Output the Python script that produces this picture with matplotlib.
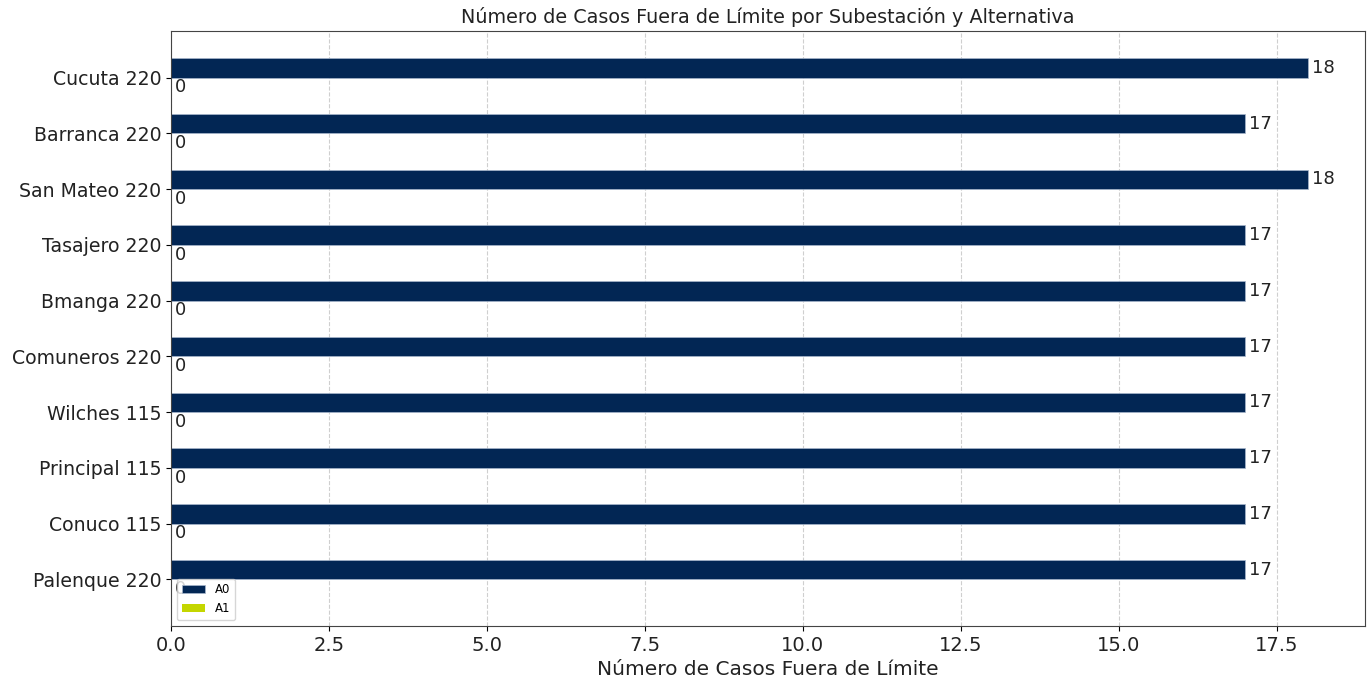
import numpy as np
import matplotlib.pyplot as plt

# Datos por subestación (de abajo hacia arriba)
subestaciones = ["Palenque 220", "Conuco 115", "Principal 115", "Wilches 115",
                 "Comuneros 220", "Bmanga 220", "Tasajero 220", "San Mateo 220",
                 "Barranca 220", "Cucuta 220"]
casos_a0 = [17, 17, 17, 17, 17, 17, 17, 18, 17, 18]
casos_a1 = [0, 0, 0, 0, 0, 0, 0, 0, 0, 0]
alternativas = ["A0", "A1"]
colores = ["#022654", "#c4d600"]

fig = plt.figure(figsize=(13.68, 6.79), dpi=100)
ax = fig.add_axes([171 / 1368, 53 / 679, 1194 / 1368, 595 / 679])

y = np.arange(len(subestaciones))
h = 0.35
b0 = ax.barh(y + h / 2, casos_a0, h, color=colores[0], label=alternativas[0],
             edgecolor="#a7b6cc", linewidth=0.5)
b1 = ax.barh(y - h / 2, casos_a1, h, color=colores[1], label=alternativas[1])
ax.bar_label(b0, padding=3, fontsize=13, color="#222222")
ax.bar_label(b1, padding=3, fontsize=13, color="#222222")

ax.set_yticks(y)
ax.set_yticklabels(subestaciones, fontsize=13.6, color="#222222")
ax.tick_params(axis="x", labelsize=14, labelcolor="#222222")
ax.set_xlabel("Número de Casos Fuera de Límite", fontsize=14.5, color="#222222")
ax.set_title("Número de Casos Fuera de Límite por Subestación y Alternativa",
             fontsize=13.8, color="#222222")
ax.grid(axis="x", linestyle="--", alpha=0.6)
ax.set_axisbelow(True)
for s in ax.spines.values():
    s.set_color("#444444")
ax.legend(loc="lower left", fontsize=8.5)

fig.savefig("out.png")
